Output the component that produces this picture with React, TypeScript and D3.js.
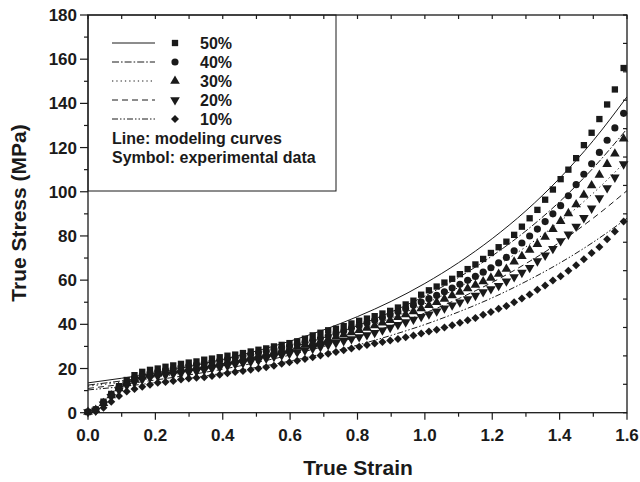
import React from 'react';
import * as d3 from 'd3';

// Shared strain values of the experimental points
const strain = [
  0.000, 0.023, 0.046, 0.069, 0.092, 0.115, 0.138, 0.161, 0.184, 0.207,
  0.230, 0.253, 0.276, 0.299, 0.322, 0.345, 0.368, 0.391, 0.414, 0.437,
  0.460, 0.483, 0.506, 0.529, 0.552, 0.575, 0.598, 0.621, 0.644, 0.667,
  0.690, 0.713, 0.736, 0.759, 0.782, 0.805, 0.828, 0.851, 0.874, 0.897,
  0.920, 0.943, 0.966, 0.989, 1.012, 1.035, 1.058, 1.081, 1.104, 1.127,
  1.150, 1.173, 1.196, 1.219, 1.242, 1.265, 1.288, 1.311, 1.334, 1.357,
  1.380, 1.403, 1.426, 1.449, 1.472, 1.495, 1.518, 1.541, 1.564, 1.590,
];

const exp50 = [
  0.3, 1.5, 5.0, 8.5, 12.0, 14.8, 17.0, 18.5, 19.4, 20.0,
  20.8, 21.4, 22.1, 22.7, 23.2, 24.0, 24.5, 25.1, 25.8, 26.3,
  27.0, 27.7, 28.5, 29.1, 30.0, 30.7, 31.5, 32.3, 33.5, 35.0,
  36.2, 37.3, 38.0, 39.2, 40.4, 41.6, 42.6, 43.7, 44.9, 46.1,
  47.6, 49.0, 50.7, 53.4, 55.4, 57.1, 58.9, 60.6, 62.7, 65.0,
  67.1, 69.6, 72.3, 74.9, 77.4, 80.5, 84.2, 88.0, 91.8, 96.4,
  101.0, 105.7, 110.0, 115.2, 121.1, 126.7, 132.9, 139.5, 146.3, 156.0,
];
const exp40 = [
  0.4, 1.4, 4.7, 8.2, 11.5, 14.0, 15.8, 17.0, 17.9, 18.6,
  19.3, 19.9, 20.6, 21.2, 21.8, 22.4, 23.0, 23.6, 24.3, 25.0,
  25.7, 26.4, 27.1, 27.8, 28.6, 29.4, 30.2, 31.0, 31.9, 32.8,
  33.8, 34.8, 35.9, 37.0, 38.3, 39.4, 40.6, 41.8, 43.0, 44.3,
  45.7, 47.1, 48.6, 50.1, 51.6, 53.1, 54.7, 56.4, 58.1, 59.9,
  61.7, 63.6, 65.6, 67.8, 70.3, 73.3, 76.8, 80.0, 83.1, 86.5,
  90.0, 93.7, 98.2, 103.2, 107.9, 112.7, 117.8, 123.3, 128.9, 135.5,
];
const exp30 = [
  0.3, 1.2, 4.3, 7.8, 11.0, 13.3, 15.0, 16.3, 17.2, 17.9,
  18.5, 19.0, 19.6, 20.1, 20.7, 21.3, 21.9, 22.5, 23.1, 23.8,
  24.5, 25.2, 25.9, 26.6, 27.4, 28.2, 29.0, 29.8, 30.6, 31.5,
  32.4, 33.3, 34.3, 35.3, 36.3, 37.3, 38.4, 39.5, 40.7, 41.9,
  43.2, 44.5, 45.8, 47.2, 48.6, 50.0, 51.5, 53.0, 54.6, 56.2,
  57.8, 59.4, 61.0, 62.8, 65.0, 68.3, 70.8, 73.6, 76.3, 79.5,
  83.0, 86.7, 90.2, 94.2, 98.5, 102.8, 107.6, 112.5, 117.2, 124.0,
];
const exp20 = [
  0.3, 1.0, 3.8, 7.2, 10.2, 12.3, 13.8, 15.0, 15.9, 16.5,
  17.0, 17.5, 17.9, 18.3, 18.7, 19.3, 20.0, 20.6, 21.2, 21.9,
  22.5, 23.1, 23.7, 24.5, 25.3, 26.0, 26.7, 27.4, 28.2, 29.0,
  29.8, 30.7, 31.6, 32.5, 33.4, 34.3, 35.2, 36.2, 37.3, 38.5,
  39.8, 41.0, 42.2, 43.4, 44.6, 45.9, 47.3, 48.6, 50.0, 51.5,
  53.0, 54.6, 56.0, 57.5, 59.5, 61.4, 63.4, 65.6, 68.6, 71.2,
  74.2, 77.7, 80.7, 84.3, 88.2, 92.5, 97.2, 101.7, 106.5, 112.5,
];
const exp10 = [
  0.2, 0.6, 2.2, 5.0, 7.6, 9.6, 10.7, 11.7, 12.7, 13.5,
  13.9, 14.4, 15.0, 15.5, 15.8, 16.1, 16.6, 17.2, 17.8, 18.4,
  18.9, 19.4, 20.0, 20.6, 21.3, 22.1, 22.8, 23.5, 24.3, 25.1,
  25.9, 26.7, 27.5, 28.3, 29.1, 29.9, 30.6, 31.3, 32.0, 32.7,
  33.4, 34.1, 34.9, 35.8, 36.7, 37.6, 38.6, 39.6, 40.7, 41.8,
  42.9, 44.3, 45.6, 47.0, 48.3, 50.0, 51.7, 53.5, 55.6, 57.6,
  59.8, 61.8, 64.2, 66.7, 69.5, 72.3, 75.0, 78.5, 82.0, 86.5,
];

// Modeling curves
const modelStrain = [0, 0.1, 0.2, 0.3, 0.4, 0.5, 0.6, 0.7, 0.8, 0.9, 1.0, 1.1, 1.2, 1.3, 1.4, 1.5, 1.6];
const model50 = [13.5, 15.6, 18.0, 20.9, 24.1, 27.9, 32.4, 37.5, 43.5, 50.4, 58.5, 67.9, 78.8, 91.4, 106.1, 123.2, 143.0];
const model40 = [12.5, 14.4, 16.6, 19.1, 22.0, 25.4, 29.4, 34.0, 39.4, 45.6, 52.8, 61.2, 71.0, 82.3, 95.5, 110.8, 128.5];
const model30 = [12.0, 13.8, 16.0, 18.4, 21.2, 24.4, 28.1, 32.3, 37.2, 42.8, 49.3, 56.7, 65.3, 75.1, 86.4, 99.4, 114.4];
const model20 = [11.0, 12.8, 14.8, 17.1, 19.7, 22.7, 26.1, 30.0, 34.4, 39.4, 45.1, 51.6, 59.0, 67.5, 77.1, 88.1, 100.5];
const model10 = [10.3, 11.8, 13.6, 15.6, 17.9, 20.5, 23.4, 26.8, 30.6, 35.0, 39.9, 45.6, 52.0, 59.4, 67.7, 77.2, 88.0];

const seriesLabels = ['50%', '40%', '30%', '20%', '10%'];
const xTickValues = [0, 0.2, 0.4, 0.6, 0.8, 1.0, 1.2, 1.4, 1.6];
const xTickLabels = ['0.0', '0.2', '0.4', '0.6', '0.8', '1.0', '1.2', '1.4', '1.6'];
const yTickValues = [0, 20, 40, 60, 80, 100, 120, 140, 160, 180];
const yTickLabels = ['0', '20', '40', '60', '80', '100', '120', '140', '160', '180'];

const FONT = "'Liberation Sans', Arial, Helvetica, sans-serif";
const INK = '#1a1a1a';

export default function App() {
  const left = 88, right = 627, top = 15, bottom = 412.7;
  const x = d3.scaleLinear().domain([0, 1.6]).range([left, right]);
  const y = d3.scaleLinear().domain([0, 180]).range([bottom, top]);

  const expSeries = [exp50, exp40, exp30, exp20, exp10];
  const modelSeries = [model50, model40, model30, model20, model10];
  const dashes = ['none', '7,2,1.6,2', '1.3,3', '6,4', '6,2,1.5,2,1.5,2'];
  const symbolTypes = [d3.symbolSquare, d3.symbolCircle, d3.symbolTriangle, d3.symbolTriangle, d3.symbolSquare];
  const symbolSizes = [40, 40, 40, 40, 32];
  const rotations = [0, 0, 0, 180, 45];

  const sym = (i: number) => d3.symbol().type(symbolTypes[i]).size(symbolSizes[i])() as string;

  const lineGen = d3
    .line<number>()
    .x((_, i) => x(modelStrain[i]))
    .y((d) => y(d))
    .curve(d3.curveMonotoneX);

  const xMinor = d3.range(0, 17).map((k) => k / 10);
  const yMinor = d3.range(0, 19).map((k) => k * 10);
  const rightTicks = d3.range(0, 15).map((k) => (180 * k) / 14);

  // legend layout
  const legX0 = 112, legX1 = 155, legSymX = 175, legTextX = 200, legY0 = 43, legDy = 19;
  const legFont = 16;

  return (
    <svg width={640} height={482} style={{ position: 'absolute', left: 0, top: 0, background: '#fff' }}>
      <defs>
        <clipPath id="plotClip">
          <rect x={left} y={top} width={right - left} height={bottom - top} />
        </clipPath>
      </defs>
      <rect x={0} y={0} width={640} height={482} fill="#fff" />

      {/* modeling curves */}
      <g clipPath="url(#plotClip)">
        {modelSeries.map((s, i) => (
          <path key={'m' + i} d={lineGen(s) as string} fill="none" stroke={INK} strokeWidth={1}
            strokeDasharray={dashes[i]} />
        ))}
      </g>

      {/* experimental symbols */}
      <g>
        {expSeries.map((s, i) => (
          <g key={'e' + i}>
            {s.map((v, j) => (
              <path key={j} d={sym(i)} fill={INK}
                transform={`translate(${x(strain[j])},${y(v)}) rotate(${rotations[i]})`} />
            ))}
          </g>
        ))}
      </g>

      {/* frame */}
      <rect x={left} y={top} width={right - left} height={bottom - top} fill="none" stroke={INK} strokeWidth={1.3} />

      {/* bottom axis ticks */}
      {xMinor.map((v, k) => (
        <line key={'xb' + k} x1={x(v)} x2={x(v)} y1={bottom} y2={bottom + (k % 2 === 0 ? 7 : 4)} stroke={INK} strokeWidth={1.2} />
      ))}
      {/* top axis ticks */}
      {xMinor.map((v, k) => (
        <line key={'xt' + k} x1={x(v)} x2={x(v)} y1={top} y2={top + 4} stroke={INK} strokeWidth={1.2} />
      ))}
      {/* left axis ticks */}
      {yMinor.map((v, k) => (
        <line key={'yl' + k} x1={left - (k % 2 === 0 ? 8 : 4)} x2={left} y1={y(v)} y2={y(v)} stroke={INK} strokeWidth={1.2} />
      ))}
      {/* right axis ticks */}
      {rightTicks.map((v, k) => (
        <line key={'yr' + k} x1={right - 4} x2={right} y1={y(v)} y2={y(v)} stroke={INK} strokeWidth={1.2} />
      ))}

      {/* tick labels */}
      {xTickValues.map((v, k) => (
        <text key={'xl' + k} x={x(v)} y={441} textAnchor="middle" fontFamily={FONT} fontWeight="bold" fontSize={17} fill={INK}>
          {xTickLabels[k]}
        </text>
      ))}
      {yTickValues.map((v, k) => (
        <text key={'yl2' + k} x={77} y={y(v)} dy="0.36em" textAnchor="end" fontFamily={FONT} fontWeight="bold" fontSize={17} fill={INK}>
          {yTickLabels[k]}
        </text>
      ))}

      {/* axis titles */}
      <text x={358} y={475} textAnchor="middle" fontFamily={FONT} fontWeight="bold" fontSize={21} fill={INK}>True Strain</text>
      <text transform="translate(26,213) rotate(-90)" textAnchor="middle" fontFamily={FONT} fontWeight="bold" fontSize={21} fill={INK}>
        True Stress (MPa)
      </text>

      {/* legend */}
      <rect x={left} y={top} width={248} height={176} fill="none" stroke={INK} strokeWidth={1} />
      {seriesLabels.map((lab, i) => {
        const yy = legY0 + i * legDy;
        return (
          <g key={'lg' + i}>
            <line x1={legX0} x2={legX1} y1={yy} y2={yy} stroke={INK} strokeWidth={1} strokeDasharray={dashes[i]} />
            <path d={sym(i)} fill={INK} transform={`translate(${legSymX},${yy}) rotate(${rotations[i]})`} />
            <text x={legTextX} y={yy} dy="0.36em" fontFamily={FONT} fontWeight="bold" fontSize={legFont} fill={INK}>{lab}</text>
          </g>
        );
      })}
      <text x={legX0} y={legY0 + 5 * legDy} dy="0.36em" fontFamily={FONT} fontWeight="bold" fontSize={legFont} fill={INK}>
        Line: modeling curves
      </text>
      <text x={legX0} y={legY0 + 6 * legDy} dy="0.36em" fontFamily={FONT} fontWeight="bold" fontSize={legFont} fill={INK}>
        Symbol: experimental data
      </text>
    </svg>
  );
}
